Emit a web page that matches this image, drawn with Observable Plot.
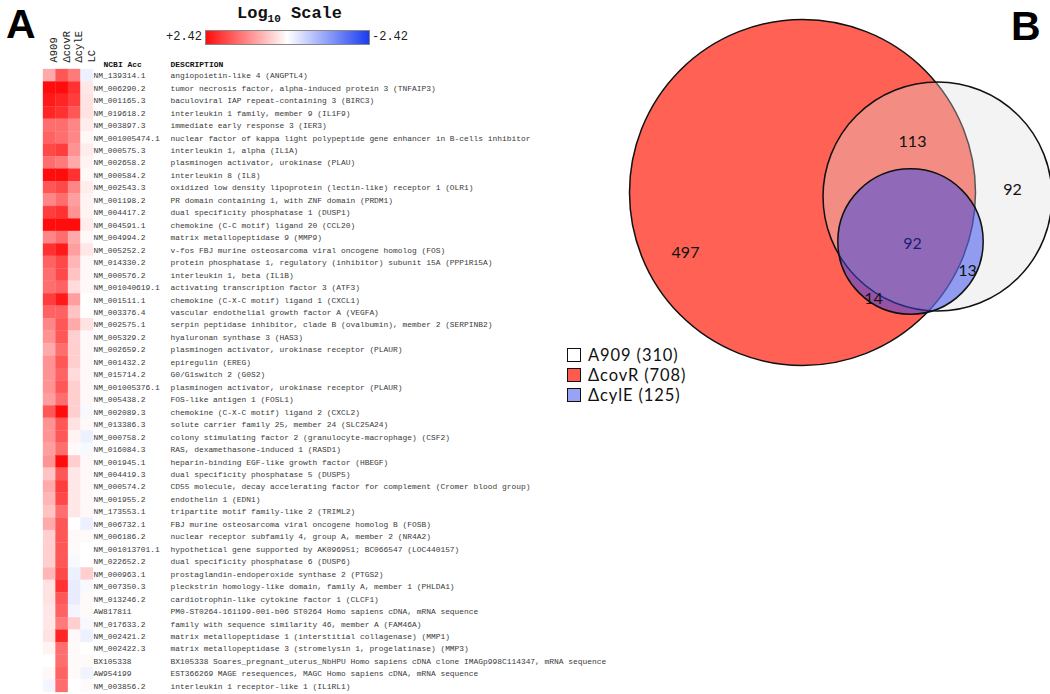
<!DOCTYPE html>
<html>
<head>
<meta charset="utf-8">
<script src="https://cdn.jsdelivr.net/npm/d3@7"></script>
<script src="https://cdn.jsdelivr.net/npm/@observablehq/plot@0.6"></script>
<style>
  html, body { margin: 0; padding: 0; background: #fff; }
  #root { position: relative; width: 1050px; height: 694px; overflow: hidden; }
  .abs { position: absolute; }
  .panel { font-family: "Liberation Sans", Arial, sans-serif; font-weight: bold; font-size: 41px; line-height: 48px; }
  .mono { font-family: "Liberation Mono", "DejaVu Sans Mono", monospace; }
  .leg { font-family: Lato, "Open Sans", sans-serif; font-size: 16.5px; letter-spacing: 0.9px; color: #111; }
  .lbox { position: absolute; width: 12px; height: 12px; border: 1.5px solid #111; }
</style>
</head>
<body>
<div id="root">
  <div class="abs panel" style="left:6px; top:0px;">A</div>
  <div class="abs panel" style="left:1011px; top:2px;">B</div>
  <div class="abs mono" style="left:237px; top:4px; font-weight:bold; font-size:17px; color:#111;">Log<sub style="font-size:11px;">10</sub> Scale</div>
  <div class="abs mono" style="left:166px; top:30px; font-size:12px; color:#222;">+2.42</div>
  <div id="ramp" class="abs" style="left:205px; top:30px; width:163px; height:13px; border:1px solid #888;"></div>
  <div class="abs mono" style="left:372px; top:30px; font-size:12px; color:#222;">-2.42</div>
  <div id="heat" class="abs" style="left:0; top:0;"></div>
  <div id="venn" class="abs" style="left:550px; top:0;"></div>
  <div class="abs leg" id="legend" style="left:567px; top:345px;"></div>
</div>
<script>
// ---------- Panel A data ----------
const samples = ["A909", "ΔcovR", "ΔcylE", "LC"];
const accessions = [
  "NM_139314.1","NM_006290.2","NM_001165.3","NM_019618.2","NM_003897.3","NM_001005474.1","NM_000575.3","NM_002658.2","NM_000584.2","NM_002543.3",
  "NM_001198.2","NM_004417.2","NM_004591.1","NM_004994.2","NM_005252.2","NM_014330.2","NM_000576.2","NM_001040619.1","NM_001511.1","NM_003376.4",
  "NM_002575.1","NM_005329.2","NM_002659.2","NM_001432.2","NM_015714.2","NM_001005376.1","NM_005438.2","NM_002089.3","NM_013386.3","NM_000758.2",
  "NM_016084.3","NM_001945.1","NM_004419.3","NM_000574.2","NM_001955.2","NM_173553.1","NM_006732.1","NM_006186.2","NM_001013701.1","NM_022652.2",
  "NM_000963.1","NM_007350.3","NM_013246.2","AW817811","NM_017633.2","NM_002421.2","NM_002422.3","BX105338","AW954199","NM_003856.2"
];
const descriptions = [
  "angiopoietin-like 4 (ANGPTL4)",
  "tumor necrosis factor, alpha-induced protein 3 (TNFAIP3)",
  "baculoviral IAP repeat-containing 3 (BIRC3)",
  "interleukin 1 family, member 9 (IL1F9)",
  "immediate early response 3 (IER3)",
  "nuclear factor of kappa light polypeptide gene enhancer in B-cells inhibitor",
  "interleukin 1, alpha (IL1A)",
  "plasminogen activator, urokinase (PLAU)",
  "interleukin 8 (IL8)",
  "oxidized low density lipoprotein (lectin-like) receptor 1 (OLR1)",
  "PR domain containing 1, with ZNF domain (PRDM1)",
  "dual specificity phosphatase 1 (DUSP1)",
  "chemokine (C-C motif) ligand 20 (CCL20)",
  "matrix metallopeptidase 9 (MMP9)",
  "v-fos FBJ murine osteosarcoma viral oncogene homolog (FOS)",
  "protein phosphatase 1, regulatory (inhibitor) subunit 15A (PPP1R15A)",
  "interleukin 1, beta (IL1B)",
  "activating transcription factor 3 (ATF3)",
  "chemokine (C-X-C motif) ligand 1 (CXCL1)",
  "vascular endothelial growth factor A (VEGFA)",
  "serpin peptidase inhibitor, clade B (ovalbumin), member 2 (SERPINB2)",
  "hyaluronan synthase 3 (HAS3)",
  "plasminogen activator, urokinase receptor (PLAUR)",
  "epiregulin (EREG)",
  "G0/G1switch 2 (G0S2)",
  "plasminogen activator, urokinase receptor (PLAUR)",
  "FOS-like antigen 1 (FOSL1)",
  "chemokine (C-X-C motif) ligand 2 (CXCL2)",
  "solute carrier family 25, member 24 (SLC25A24)",
  "colony stimulating factor 2 (granulocyte-macrophage) (CSF2)",
  "RAS, dexamethasone-induced 1 (RASD1)",
  "heparin-binding EGF-like growth factor (HBEGF)",
  "dual specificity phosphatase 5 (DUSP5)",
  "CD55 molecule, decay accelerating factor for complement (Cromer blood group)",
  "endothelin 1 (EDN1)",
  "tripartite motif family-like 2 (TRIML2)",
  "FBJ murine osteosarcoma viral oncogene homolog B (FOSB)",
  "nuclear receptor subfamily 4, group A, member 2 (NR4A2)",
  "hypothetical gene supported by AK096951; BC066547 (LOC440157)",
  "dual specificity phosphatase 6 (DUSP6)",
  "prostaglandin-endoperoxide synthase 2 (PTGS2)",
  "pleckstrin homology-like domain, family A, member 1 (PHLDA1)",
  "cardiotrophin-like cytokine factor 1 (CLCF1)",
  "PM0-ST0264-161199-001-b06 ST0264 Homo sapiens cDNA, mRNA sequence",
  "family with sequence similarity 46, member A (FAM46A)",
  "matrix metallopeptidase 1 (interstitial collagenase) (MMP1)",
  "matrix metallopeptidase 3 (stromelysin 1, progelatinase) (MMP3)",
  "BX105338 Soares_pregnant_uterus_NbHPU Homo sapiens cDNA clone IMAGp998C114347, mRNA sequence",
  "EST366269 MAGE resequences, MAGC Homo sapiens cDNA, mRNA sequence",
  "interleukin 1 receptor-like 1 (IL1RL1)"
];
// log10 fold change per sample
const valA909 = [0.85,2.42,2.3,2.18,1.45,1.57,1.82,1.45,2.42,1.69,1.21,1.94,2.42,1.21,2.06,1.57,1.45,1.45,1.94,1.57,1.21,1.09,0.85,1.09,1.09,1.09,0.97,1.69,1.09,1.09,0.97,1.09,0.6,0.85,0.73,0.6,0.85,0.48,0.48,0.48,0.73,0.29,0.29,0.24,0.24,0.29,0.12,0,0.07,-0.12];
const valCovR = [1.69,2.42,2.18,2.06,1.45,1.45,1.94,1.33,2.42,1.82,1.45,2.06,2.42,1.45,2.3,1.82,1.82,1.57,2.3,1.57,1.69,1.69,1.45,1.69,1.57,1.69,1.45,2.42,1.69,1.69,1.45,2.42,1.69,1.94,1.82,1.45,1.69,1.69,1.69,1.69,1.82,2.06,1.69,1.57,1.33,2.18,1.45,1.45,1.57,1.45];
const valCylE = [1.33,2.06,1.94,1.69,1.21,1.21,1.09,0.85,2.06,1.21,0.97,1.09,2.42,0.85,0.97,0.73,0.6,0.36,0.97,0.6,0.85,0.48,0.48,0.48,0.36,0.48,0.48,0.48,0.29,0.12,0.05,0.48,0.24,0.24,0.24,0.24,0,0.07,0.05,-0.07,-0.19,-0.24,-0.24,-0.12,0.48,0.07,0.05,0.05,0.05,0];
const valLC   = [-0.19,0.24,0.29,0.29,0.19,0.07,0.19,0.12,0.07,0.19,0.12,0.12,0.19,0.07,0.24,0.07,0.07,0.07,0,0,0.29,0.07,0.07,0.07,0.07,0.07,0.07,-0.07,0.07,-0.19,-0.07,0.07,0.07,0.07,0.07,0.07,-0.19,0.05,0,0,0.48,-0.07,0.05,0.05,-0.07,-0.19,0,0.05,-0.15,0.05];
const scaleMax = 2.42;

// ---------- Panel B data ----------
const vennSets = ["ΔcovR", "A909", "ΔcylE"];
const vennSizes = [708, 310, 125];
const regionCounts = [497, 113, 92, 92, 13, 14];

// ---------- build tables ----------
const series = [valA909, valCovR, valCylE, valLC];
const genes = accessions.map((acc, i) => ({acc, desc: descriptions[i]}));
const cells = accessions.flatMap((acc, i) => samples.map((s, j) => ({acc, sample: s, value: series[j][i]})));

const redHi = "#ff0d0d", blueLo = "#1a3cf0";
document.getElementById("ramp").style.background = `linear-gradient(to right, ${redHi}, #ffffff 50%, ${blueLo})`;

const mono = "Liberation Mono, DejaVu Sans Mono, monospace";
const heat = Plot.plot({
  width: 620, height: 694, margin: 0,
  style: {background: "transparent", overflow: "visible"},
  x: {type: "band", domain: samples, range: [43, 93], padding: 0, round: false, axis: null},
  y: {type: "band", domain: accessions, range: [69, 692], padding: 0, round: false, axis: null},
  color: {type: "linear", domain: [-scaleMax, 0, scaleMax], range: [blueLo, "#ffffff", redHi], interpolate: "rgb"},
  marks: [
    Plot.cell(cells, {x: "sample", y: "acc", fill: "value", inset: 0, stroke: "value", strokeWidth: 0.3}),
    Plot.text(samples, {x: d => d, text: d => d, frameAnchor: "top", dy: 62, rotate: -90, textAnchor: "start",
      fontFamily: mono, fontSize: 10.5, fill: "#222"}),
    Plot.text(["NCBI Acc"], {frameAnchor: "top-left", dx: 103, dy: 61, textAnchor: "start", fontFamily: mono, fontSize: 8, fontWeight: "bold", fill: "#111"}),
    Plot.text(["DESCRIPTION"], {frameAnchor: "top-left", dx: 170, dy: 61, textAnchor: "start", fontFamily: mono, fontSize: 8, fontWeight: "bold", fill: "#111"}),
    Plot.text(genes, {y: "acc", text: "acc", frameAnchor: "left", dx: 93, textAnchor: "start", fontFamily: mono, fontSize: 7.9, fill: "#3a3a3a"}),
    Plot.text(genes, {y: "acc", text: "desc", frameAnchor: "left", dx: 170, textAnchor: "start", fontFamily: mono, fontSize: 7.9, fill: "#3a3a3a"})
  ]
});
document.getElementById("heat").appendChild(heat);

// ---------- Venn ----------
// layout (pixel units inside panel B)
const vennLayoutX = [252, 387, 360];
const vennLayoutY = [192, 196, 241];
const vennFill = ["#ff6154", "#dedede", "#2f45f0"];
const vennOpacity = [1, 0.35, 0.5];
const circles = vennSets.map((s, i) => ({set: s, size: vennSizes[i], cx: vennLayoutX[i], cy: vennLayoutY[i], fill: vennFill[i], op: vennOpacity[i]}));
const labelX = [135, 362, 462, 362, 417, 323];
const labelY = [252, 141, 189, 243, 270, 298];
const labelColor = ["#111", "#111", "#111", "#1c1c6e", "#111", "#111"];
const labels = regionCounts.map((c, i) => ({c, x: labelX[i], y: labelY[i], col: labelColor[i]}));

const venn = Plot.plot({
  width: 500, height: 420, margin: 0,
  style: {background: "transparent", overflow: "visible"},
  x: {domain: [0, 500], range: [0, 500], axis: null},
  y: {domain: [0, 420], range: [0, 420], axis: null},
  r: {type: "sqrt", domain: [0, 708], range: [0, 173]},
  marks: circles.map(c => Plot.dot([c], {x: "cx", y: "cy", r: "size", fill: c.fill, fillOpacity: c.op, stroke: "#111", strokeWidth: 1.5})).concat([
    Plot.text(labels, {x: "x", y: "y", text: "c", fill: "col", fontFamily: "Lato, Open Sans, sans-serif", fontSize: 16})
  ])
});
document.getElementById("venn").appendChild(venn);

// legend (HTML)
const legendNames = ["A909 (310)", "ΔcovR (708)", "ΔcylE (125)"];
const legendFill = ["#ffffff", "#ff5a4e", "#97a4f5"];
const lg = document.getElementById("legend");
legendNames.forEach((n, i) => {
  const row = document.createElement("div");
  row.style.cssText = `position:absolute; left:0; top:${i * 20}px; white-space:nowrap; height:20px; line-height:20px;`;
  row.innerHTML = `<span class="lbox" style="left:0; top:3px; background:${legendFill[i]}"></span><span style="position:absolute; left:21px; top:0;">${n}</span>`;
  lg.appendChild(row);
});
</script>
</body>
</html>
